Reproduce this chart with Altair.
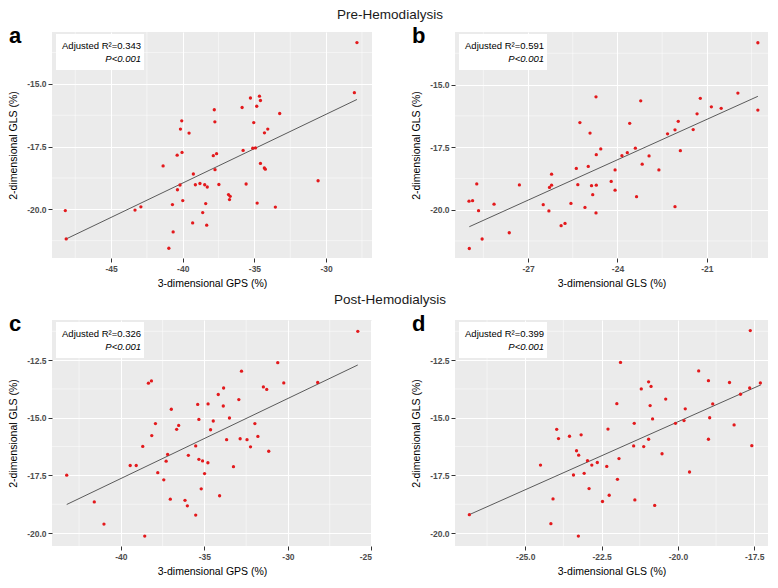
import altair as alt
import pandas as pd

FONT = "Liberation Sans"

# ---------------- data ----------------
a_x = [-27.85, -28.03, -34.65, -35.28, -34.58, -34.84, -35.86, -37.80, -33.24, -40.07, -37.76, -35.05, -40.16, -34.07,
       -39.56, -34.30, -34.93, -35.12, -35.79, -40.05, -40.39, -37.64, -37.87, -41.37, -34.58, -34.31, -34.24, -37.75,
       -39.26, -30.56, -40.19, -39.12, -38.80, -38.47, -38.29, -37.48, -35.58, -40.37, -36.81, -36.69, -36.74, -40.00,
       -40.72, -38.40, -34.81, -33.54, -43.33, -42.92, -48.19, -38.61, -39.31, -38.33, -40.67, -48.13, -40.97]
a_y = [-13.35, -15.35, -15.49, -15.56, -15.66, -15.89, -15.94, -16.03, -16.18, -16.47, -16.51, -16.54, -16.80, -16.80,
       -16.96, -16.95, -17.55, -17.56, -17.65, -17.73, -17.84, -17.78, -17.86, -18.27, -18.17, -18.35, -18.40, -18.42,
       -18.59, -18.86, -19.03, -19.02, -18.97, -19.02, -19.11, -19.01, -18.99, -19.22, -19.41, -19.48, -19.61, -19.65,
       -19.81, -19.77, -19.75, -19.91, -20.03, -19.90, -20.05, -20.13, -20.54, -20.63, -20.90, -21.18, -21.55]

b_x = [-19.29, -19.96, -24.72, -21.22, -23.22, -20.85, -20.52, -19.29, -21.33, -25.26, -23.59, -21.96, -22.07, -21.46,
       -24.92, -22.32, -24.56, -23.40, -23.67, -21.89, -24.71, -23.85, -22.94, -23.17, -24.98, -25.38, -24.08, -22.61,
       -26.21, -24.21, -28.72, -27.29, -26.21, -25.33, -24.87, -24.71, -26.28, -24.08, -24.83, -23.36, -28.86, -28.98,
       -28.14, -26.49, -25.56, -25.09, -22.07, -28.66, -26.30, -24.72, -25.76, -25.89, -27.63, -28.54, -28.97]
b_y = [-13.33, -15.34, -15.49, -15.55, -15.65, -15.89, -15.95, -16.02, -16.17, -16.52, -16.55, -16.47, -16.81, -16.80,
       -16.94, -16.97, -17.57, -17.54, -17.72, -17.64, -17.80, -17.84, -17.85, -18.18, -18.27, -18.35, -18.41, -18.41,
       -18.58, -18.87, -18.97, -19.01, -19.02, -19.00, -19.04, -19.02, -19.11, -19.22, -19.40, -19.48, -19.64, -19.66,
       -19.78, -19.80, -19.75, -19.91, -19.88, -20.04, -20.05, -20.13, -20.55, -20.64, -20.92, -21.17, -21.55]

c_x = [-25.82, -30.61, -32.78, -30.25, -28.22, -38.35, -38.17, -31.47, -31.27, -33.85, -34.17, -32.94, -35.40, -34.78,
       -33.87, -36.98, -33.50, -35.33, -34.47, -37.93, -31.98, -36.54, -36.66, -34.63, -38.15, -31.80, -32.86, -33.67,
       -32.45, -38.69, -35.52, -32.24, -31.15, -37.20, -35.96, -35.33, -35.11, -37.29, -34.79, -39.44, -39.08, -33.26,
       -37.79, -34.99, -43.24, -37.43, -35.19, -34.09, -37.04, -36.16, -36.02, -41.59, -35.52, -41.01, -38.57]
c_y = [-11.25, -12.61, -12.98, -13.49, -13.47, -13.50, -13.40, -13.66, -13.77, -13.71, -13.99, -14.21, -14.42, -14.40,
       -14.49, -14.63, -15.01, -15.07, -15.14, -15.25, -15.25, -15.33, -15.50, -15.52, -15.77, -15.81, -15.91, -15.95,
       -15.95, -16.24, -16.22, -16.26, -16.45, -16.59, -16.63, -16.80, -16.87, -16.88, -16.95, -17.07, -17.07, -17.12,
       -17.38, -17.42, -17.49, -17.69, -18.08, -18.38, -18.53, -18.58, -18.82, -18.65, -19.22, -19.61, -20.13]

d_x = [-17.63, -21.88, -19.32, -19.00, -18.31, -17.30, -20.96, -20.88, -21.20, -17.65, -17.95, -20.40, -22.00, -20.91,
       -18.86, -19.76, -18.96, -20.83, -19.80, -20.08, -21.43, -18.16, -23.97, -22.29, -23.55, -23.17, -23.91, -20.96,
       -19.00, -21.45, -21.12, -17.58, -23.32, -23.25, -20.52, -21.93, -22.96, -22.64, -24.50, -22.82, -22.33, -23.07,
       -23.42, -19.62, -21.98, -22.91, -22.25, -24.09, -22.47, -21.41, -20.76, -26.83, -24.16, -23.26]
d_y = [-11.22, -12.60, -12.97, -13.39, -13.47, -13.49, -13.44, -13.64, -13.75, -13.71, -13.98, -14.19, -14.39, -14.47,
       -14.40, -14.61, -15.00, -15.05, -15.12, -15.24, -15.24, -15.31, -15.50, -15.49, -15.80, -15.74, -15.90, -15.93,
       -15.93, -16.22, -16.25, -16.21, -16.43, -16.62, -16.56, -16.77, -16.86, -16.94, -17.05, -17.05, -17.11, -17.41,
       -17.48, -17.35, -17.67, -18.07, -18.36, -18.52, -18.63, -18.56, -18.80, -19.20, -19.59, -20.13]

# fitted regression lines (end points)
a_fit_x = [-48.13, -27.85]
a_fit_y = [-21.18, -15.62]
b_fit_x = [-28.97, -19.29]
b_fit_y = [-20.68, -15.47]
c_fit_x = [-43.24, -25.82]
c_fit_y = [-18.76, -12.71]
d_fit_x = [-26.83, -17.28]
d_fit_y = [-19.20, -13.57]

# axis ticks
a_xticks = [-45, -40, -35, -30]
b_xticks = [-27, -24, -21]
c_xticks = [-40, -35, -30, -25]
d_xticks = [-25.0, -22.5, -20.0, -17.5]
top_yticks = [-15.0, -17.5, -20.0]
bot_yticks = [-12.5, -15.0, -17.5, -20.0]
a_xminor = [-47.5, -42.5, -37.5, -32.5, -27.5]
b_xminor = [-28.5, -25.5, -22.5, -19.5]
c_xminor = [-42.5, -37.5, -32.5, -27.5]
d_xminor = [-26.25, -23.75, -21.25, -18.75]
top_yminor = [-13.75, -16.25, -18.75, -21.25]
bot_yminor = [-11.25, -13.75, -16.25, -18.75]

r2_labels = ["Adjusted R\u00b2=0.343", "Adjusted R\u00b2=0.591", "Adjusted R\u00b2=0.326", "Adjusted R\u00b2=0.399"]
p_label = "P<0.001"
letters = ["a", "b", "c", "d"]
headers = ["Pre-Hemodialysis", "Post-Hemodialysis"]
x_titles = ["3-dimensional GPS (%)", "3-dimensional GLS (%)", "3-dimensional GPS (%)", "3-dimensional GLS (%)"]
y_title = "2-dimensional GLS (%)"


def fmt_expr(spec):
    return "replace(format(datum.value, '%s'), '\u2212', '-')" % spec


def panel(xs, ys, fx, fy, xdom, ydom, xticks, yticks, xfmt, xminor, yminor,
          xtitle, r2, letter, width, height, header=None, header_x=0, header_y=-13):
    xs_ = alt.Scale(domain=xdom, nice=False, zero=False)
    ys_ = alt.Scale(domain=ydom, nice=False, zero=False)
    xaxis = alt.Axis(values=xticks, labelExpr=fmt_expr(xfmt), title=xtitle)
    yaxis = alt.Axis(values=yticks, labelExpr=fmt_expr(".1f"), title=y_title)
    X = lambda: alt.X("x:Q", scale=xs_, axis=xaxis)
    Y = lambda: alt.Y("y:Q", scale=ys_, axis=yaxis)

    pts = pd.DataFrame({"x": xs, "y": ys})
    fit = pd.DataFrame({"x": fx, "y": fy})

    minor_x = alt.Chart(pd.DataFrame({"x": xminor})).mark_rule(color="white", strokeWidth=0.5).encode(x=X())
    minor_y = alt.Chart(pd.DataFrame({"y": yminor})).mark_rule(color="white", strokeWidth=0.5).encode(y=Y())
    line = alt.Chart(fit).mark_line(color="#5a5a5a", strokeWidth=1).encode(x=X(), y=Y())
    dots = alt.Chart(pts).mark_circle(size=11, color="#E3191C", opacity=1).encode(x=X(), y=Y())

    one = pd.DataFrame({"r2": [r2], "p": [p_label], "letter": [letter]})
    box = alt.Chart(one).mark_rect(fill="white").encode(
        x=alt.value(4), x2=alt.value(92), y=alt.value(2), y2=alt.value(38))
    t1 = alt.Chart(one).mark_text(align="right", baseline="middle", font=FONT, fontSize=9.5, color="black").encode(
        x=alt.value(89), y=alt.value(14), text="r2:N")
    t2 = alt.Chart(one).mark_text(align="right", baseline="middle", font=FONT, fontSize=9.5, fontStyle="italic",
                                  color="black").encode(x=alt.value(89), y=alt.value(27), text="p:N")
    let = alt.Chart(one).mark_text(align="left", baseline="alphabetic", font=FONT, fontSize=22, fontWeight="bold",
                                   color="black").encode(x=alt.value(-43), y=alt.value(11), text="letter:N")
    layers = [minor_x, minor_y, line, dots, box, t1, t2, let]
    if header is not None:
        hd = alt.Chart(pd.DataFrame({"h": [header]})).mark_text(
            align="center", baseline="middle", font=FONT, fontSize=13.5, color="#1a1a1a").encode(
            x=alt.value(header_x), y=alt.value(header_y), text="h:N")
        layers.append(hd)
    return alt.layer(*layers).properties(width=width, height=height)


W1, W2, H = 320, 313, 226

pa = panel(a_x, a_y, a_fit_x, a_fit_y, [-49.12, -26.8], [-21.94, -12.93], a_xticks, top_yticks, "d",
           a_xminor, top_yminor, x_titles[0], r2_labels[0], letters[0], W1, H,
           header=headers[0], header_x=338, header_y=-17)
pb = panel(b_x, b_y, b_fit_x, b_fit_y, [-29.45, -18.95], [-21.93, -12.9], b_xticks, top_yticks, "d",
           b_xminor, top_yminor, x_titles[1], r2_labels[1], letters[1], W2, H)
pc = panel(c_x, c_y, c_fit_x, c_fit_y, [-44.12, -24.97], [-20.56, -10.76], c_xticks, bot_yticks, "d",
           c_xminor, bot_yminor, x_titles[2], r2_labels[2], letters[2], W1, H,
           header=headers[1], header_x=338, header_y=-20)
pd_ = panel(d_x, d_y, d_fit_x, d_fit_y, [-27.3, -17.05], [-20.56, -10.76], d_xticks, bot_yticks, ".1f",
            d_xminor, bot_yminor, x_titles[3], r2_labels[3], letters[3], W2, H)

chart = alt.concat(pa, pb, pc, pd_, columns=2, spacing={"row": 62, "column": 83}, bounds="flush").properties(
    padding={"left": 0, "top": 0, "right": 0, "bottom": 0}
).configure_view(fill="#EBEBEB", stroke=None).configure_axis(
    domain=False, grid=True, gridColor="white", gridWidth=1, tickColor="#333333", tickSize=4,
    labelFont=FONT, labelFontSize=8.5, labelFontWeight="bold", labelColor="#4D4D4D", labelPadding=2,
    titleFont=FONT, titleFontSize=10.5, titleFontWeight="normal", titleColor="black"
).configure_axisX(titlePadding=6).configure_axisY(titlePadding=8)

chart.save("out.html", embed_options={"renderer": "svg", "actions": False})
